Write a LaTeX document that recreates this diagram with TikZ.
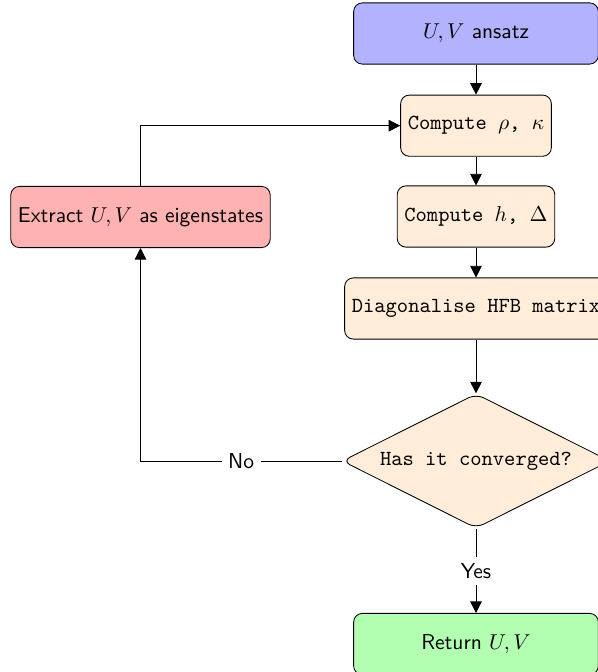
\documentclass[tikz,border=0pt]{standalone}
\usetikzlibrary{shapes.geometric,arrows.meta}
\begin{document}
\begin{tikzpicture}[x=0.4651pt,y=-0.4651pt,
  box/.style={rectangle, rounded corners, draw=black, minimum height=1cm, align=center},
  startstop/.style={box, minimum width=4cm, font=\sffamily},
  procbox/.style={box, fill=orange!15, font=\ttfamily},
  decision/.style={diamond, shape aspect=2, rounded corners, draw=black, fill=orange!15, font=\ttfamily,
    minimum width=124.5pt, minimum height=62.5pt, inner sep=0pt},
  flow/.style={-{Triangle[length=5.4pt,width=5.4pt]}},
  lbl/.style={fill=white, font=\sffamily, inner sep=3pt}]
\useasboundingbox (0,0) rectangle (598,672);
% main column
\node[startstop, fill=blue!30] (start) at (476,33.5) {$U,V$ ansatz};
\node[procbox] (dens) at (476,125.7) {Compute $\rho$, $\kappa$};
\node[procbox] (field) at (476,216.5) {Compute $h$, $\Delta$};
\node[procbox] (diag) at (476,308.5) {Diagonalise HFB matrix};
\node[decision] (conv) at (476,461) {Has it converged?};
\node[startstop, fill=green!30] (stop) at (476,644) {Return $U,V$};
% feedback branch
\node[startstop, fill=red!30, minimum width=0pt] (extract) at (140.5,217) {Extract $U,V$ as eigenstates};
\coordinate (corner) at (extract.center |- conv.west);
% connectors
\draw[flow] (start) -- (dens);
\draw[flow] (dens) -- (field);
\draw[flow] (field) -- (diag);
\draw[flow] (diag) -- (conv);
\draw[flow] (conv) -- node[lbl] {Yes} (stop);
\draw[flow] (conv.west) -- node[lbl] {No} (corner) -- (extract.south);
\draw[flow] (extract.north) |- (dens.west);
\end{tikzpicture}
\end{document}
